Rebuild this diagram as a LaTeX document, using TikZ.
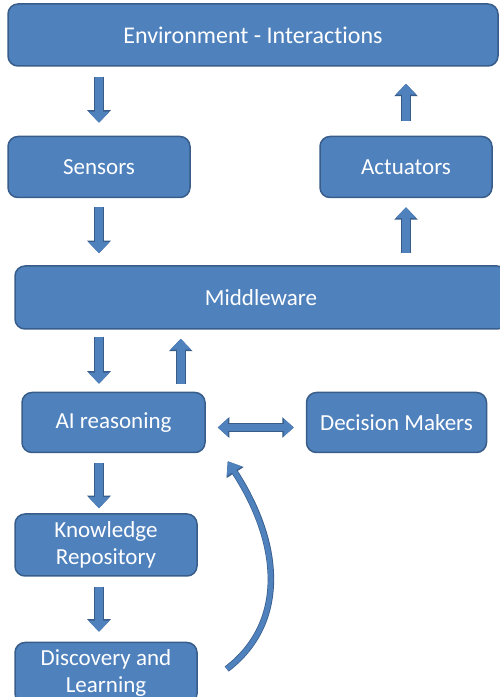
\documentclass[tikz,border=0pt]{standalone}
\usepackage{fontspec}
\setmainfont{Carlito}[Ligatures=NoCommon]
\usetikzlibrary{arrows.meta,positioning}
\definecolor{boxfill}{RGB}{79,129,189}
\definecolor{boxline}{RGB}{56,93,138}

\begin{document}
\begin{tikzpicture}[x=1pt,y=1pt,>={Triangle[length=11pt,width=20pt]},
                    semithick]
  \tikzstyle{block}=[draw=boxline,fill=boxfill,line width=1.5pt,rounded corners=10pt,
                     text=white,inner sep=0pt,minimum height=61pt,align=center,
                     font=\fontsize{23}{27}\selectfont]
  \tikzstyle{flow}=[line width=8pt,draw=boxfill,->,
                    preaction={draw=boxline,line width=10pt,-{Triangle[length=12.5pt,width=23pt]}}]
  \tikzstyle{twoway}=[line width=7pt,draw=boxfill,
                    {Triangle[length=10pt,width=17pt]}-{Triangle[length=10pt,width=17pt]},
                    preaction={draw=boxline,line width=9pt,
                    {Triangle[length=11.5pt,width=20pt]}-{Triangle[length=11.5pt,width=20pt]}}]
  \tikzstyle{loopflow}=[line width=5pt,draw=boxfill,-{Triangle[length=12pt,width=17pt]},
                    preaction={draw=boxline,line width=6.5pt,-{Triangle[length=13.5pt,width=19.5pt]}}]

  \useasboundingbox (0,0) rectangle (500,697);

  \node[block,minimum width=490pt,minimum height=62pt,font=\fontsize{24}{28}\selectfont]
        (env) at (253,662) {Environment - Interactions};
  \node[block,minimum width=182pt] (sens) [below right=69pt and 0pt of env.south west] {Sensors};
  \node[block,minimum width=172pt] (act) [below left=69pt and 6pt of env.south east] {Actuators};
  \node[block,minimum width=492pt,minimum height=63pt] (mid) [below right=67pt and 7pt of sens.south west] {Middleware};
  \node[block,minimum width=183pt,minimum height=60pt] (ai) [below right=62pt and 7pt of mid.south west] {AI reasoning};
  \node[block,minimum width=180pt,minimum height=60pt] (dec) [right=100pt of ai] {Decision Makers};
  \node[block,minimum width=182pt,minimum height=62pt] (know) [below right=60pt and -7pt of ai.south west] {Knowledge\\Repository};
  \node[block,minimum width=182pt] (disc) [below=65pt of know] {Discovery and\\Learning};
  \coordinate (feed) at ([xshift=-25pt]ai.north east);

  \draw[flow,shorten <=10pt,shorten >=13pt] (env.south -| sens.north) -- (sens.north);
  \draw[flow,shorten <=15pt,shorten >=17pt] (act.north) -- (act.north |- env.south);
  \draw[flow,shorten <=9pt,shorten >=12pt] (sens.south) -- (sens.south |- mid.north);
  \draw[flow,shorten <=12pt,shorten >=9pt] (act.south |- mid.north) -- (act.south);
  \draw[flow,shorten <=7pt,shorten >=8pt] (sens.south |- mid.south) -- (sens.south |- ai.north);
  \draw[flow,shorten <=8pt,shorten >=9pt] (feed) -- (feed |- mid.south);
  \draw[twoway,shorten <=12pt,shorten >=12pt] ([yshift=-5pt]ai.east) -- ([yshift=-5pt]dec.west);
  \draw[flow,shorten <=10pt,shorten >=5pt] (sens.south |- ai.south) -- (sens.south |- know.north);
  \draw[flow,shorten <=10pt,shorten >=10pt] (sens.south |- know.south) -- (sens.south |- disc.north);
  \draw[loopflow] ([shift={(29,4)}]disc.east) .. controls +(59,45) and +(55,-85) .. ([shift={(22,-8)}]ai.south east);
\end{tikzpicture}
\end{document}
